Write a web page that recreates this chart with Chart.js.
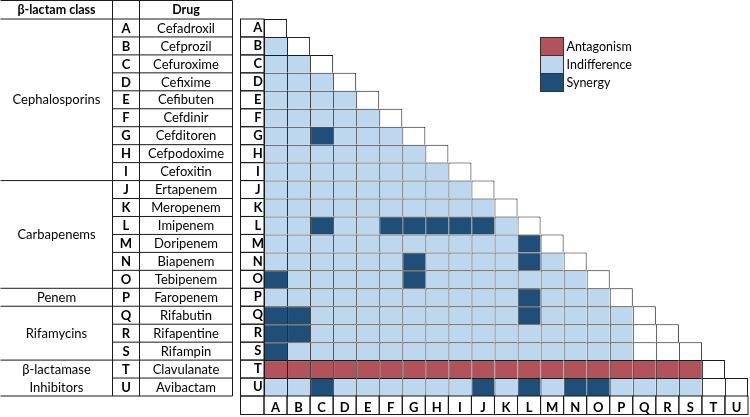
<!DOCTYPE html>
<html>
<head>
<meta charset="utf-8">
<script src="https://cdn.jsdelivr.net/npm/chart.js@4.4.1/dist/chart.umd.min.js"></script>
<style>
html,body{margin:0;padding:0;background:#fff;}
#wrap{position:relative;width:750px;height:417px;}
</style>
</head>
<body>
<div id="wrap"><canvas id="c" width="750" height="417"></canvas></div>
<script>
// ---- data ----
const letters = ['A','B','C','D','E','F','G','H','I','J','K','L','M','N','O','P','Q','R','S','T','U'];
const drugs = ['Cefadroxil','Cefprozil','Cefuroxime','Cefixime','Cefibuten','Cefdinir','Cefditoren','Cefpodoxime','Cefoxitin',
  'Ertapenem','Meropenem','Imipenem','Doripenem','Biapenem','Tebipenem','Faropenem','Rifabutin','Rifapentine','Rifampin',
  'Clavulanate','Avibactam'];
const classNames = ['Cephalosporins','Carbapenems','Penem','Rifamycins','β-lactamase\nInhibitors'];
const classFirstRow = [0, 9, 15, 16, 19];
const classLastRow = [8, 14, 15, 18, 20];
// Interaction of row drug with column drugs A.. (lower triangle, before diagonal)
// I = Indifference, S = Synergy, A = Antagonism, - = not tested (white)
const interactions = [
  '',
  'I',
  'II',
  'III',
  'IIII',
  'IIIII',
  'IISIII',
  'IIIIIII',
  'IIIIIIII',
  'IIIIIIIII',
  'IIIIIIIIII',
  'IISIISSSSSI',
  'IIIIIIIIIIIS',
  'IIIIIISIIIISI',
  'SIIIIISIIIIIII',
  'IIIIIIIIIIISIII',
  'SSIIIIIIIIISIIII',
  'SSIIIIIIIIIIIIII-',
  'SIIIIIIIIIIIIIII--',
  'AAAAAAAAAAAAAAAAAAA',
  'IISIIIIIISISISSIIII-'
];
const legendLabels = ['Antagonism','Indifference','Synergy'];
const legendCodes = ['A','I','S'];
const tableHeaders = ['β-lactam class','','Drug'];

// ---- styles ----
const colorFor = {A:'#B2525A', I:'#BDD7EE', S:'#1F4E79', '-':'#FFFFFF', D:'#FFFFFF'};
const FONT = 'Lato, "Open Sans", sans-serif';
const LINE = '#1a1a1a';

function cellCode(i, j){
  if (j > i) return null;
  if (j === i) return 'D';
  return interactions[i][j];
}

const datasets = letters.map((col, j) => {
  const data = letters.map((row, i) => cellCode(i, j) === null ? null : [j, j + 1]);
  const codes = letters.map((row, i) => cellCode(i, j));
  return {
    label: col,
    data: data,
    backgroundColor: codes.map(c => c ? colorFor[c] : 'transparent'),
    borderColor: LINE,
    borderWidth: letters.map((row, i) => ({top: 1, left: 1, bottom: 0, right: (i === j ? 1 : 0)})),
    borderSkipped: false,
    inflateAmount: 0,
    grouped: false,
    barPercentage: 1,
    categoryPercentage: 1
  };
});

const tablePlugin = {
  id: 'tableAndFrames',
  afterDraw(chart) {
    const ctx = chart.ctx;
    const ca = chart.chartArea;
    const y = chart.scales.y;
    const x = chart.scales.x;
    const rowH = (ca.bottom - ca.top) / letters.length;
    const rowTop = i => y.getPixelForValue(i) - rowH / 2;
    ctx.save();
    ctx.strokeStyle = LINE;
    ctx.lineWidth = 1;
    // ----- grid label cells (left column) -----
    const lx0 = 240.5, lx1 = ca.left;
    letters.forEach((l, i) => {
      ctx.strokeRect(lx0, rowTop(i), lx1 - lx0, rowH);
    });
    // bottom label row
    const by0 = ca.bottom, by1 = 414.5;
    ctx.strokeRect(lx0, by0, lx1 - lx0, by1 - by0);
    letters.forEach((l, j) => {
      const a = x.getPixelForValue(j), b = x.getPixelForValue(j + 1);
      ctx.strokeRect(a, by0, b - a, by1 - by0);
    });

    // ----- left table -----
    const c0 = 0.5, c1 = 112.5, c2 = 139.5, c3 = 232.5;
    const top = 0.5, headB = rowTop(0);
    const tableBottom = rowTop(letters.length - 1) + rowH;
    ctx.beginPath();
    ctx.moveTo(c0, top); ctx.lineTo(c3, top);
    ctx.moveTo(c0, headB); ctx.lineTo(c3, headB);
    ctx.moveTo(c0, tableBottom); ctx.lineTo(c3, tableBottom);
    ctx.moveTo(c3, top); ctx.lineTo(c3, tableBottom);
    ctx.moveTo(c1, top); ctx.lineTo(c1, tableBottom);
    ctx.moveTo(c2, top); ctx.lineTo(c2, tableBottom);
    for (let i = 1; i < letters.length; i++) {
      const yy = rowTop(i);
      ctx.moveTo(c1, yy); ctx.lineTo(c3, yy);
    }
    classFirstRow.forEach(r => {
      if (r > 0) { const yy = rowTop(r); ctx.moveTo(c0, yy); ctx.lineTo(c1, yy); }
    });
    ctx.stroke();

    ctx.fillStyle = '#000';
    ctx.textBaseline = 'middle';
    ctx.textAlign = 'center';
    ctx.font = 'bold 12.5px ' + FONT;
    ctx.fillText(tableHeaders[0], (c0 + c1) / 2, (top + headB) / 2 + 0.5);
    ctx.fillText(tableHeaders[2], (c2 + c3) / 2, (top + headB) / 2 + 0.5);
    letters.forEach((l, i) => {
      const cy = y.getPixelForValue(i) + 0.5;
      ctx.font = 'bold 13px ' + FONT;
      ctx.fillText(l, (c1 + c2) / 2, cy);
      ctx.font = '13px ' + FONT;
      ctx.fillText(drugs[i], (c2 + c3) / 2, cy);
    });
    ctx.font = '13px ' + FONT;
    classNames.forEach((name, k) => {
      const t = rowTop(classFirstRow[k]);
      const b = rowTop(classLastRow[k]) + rowH;
      const lines = name.split('\n');
      const mid = (t + b) / 2;
      lines.forEach((ln, m) => {
        ctx.fillText(ln, (c0 + c1) / 2, mid + (m - (lines.length - 1) / 2) * rowH + 0.5);
      });
    });

    // ----- legend -----
    const gx = 540.5, gy = 37.5, gw = 23, gh = 18;
    legendLabels.forEach((lab, k) => {
      ctx.fillStyle = colorFor[legendCodes[k]];
      ctx.fillRect(gx, gy + k * gh, gw, gh);
      ctx.strokeStyle = '#333';
      ctx.strokeRect(gx, gy + k * gh, gw, gh);
      ctx.fillStyle = '#000';
      ctx.textAlign = 'left';
      ctx.font = '12.5px ' + FONT;
      ctx.fillText(lab, gx + gw + 3, gy + k * gh + gh / 2 + 0.5);
    });
    ctx.restore();
  }
};

new Chart(document.getElementById('c'), {
  type: 'bar',
  data: { labels: letters, datasets: datasets },
  options: {
    indexAxis: 'y',
    responsive: false,
    animation: false,
    events: [],
    layout: { padding: { left: 240, top: 19, right: 2, bottom: 2 } },
    plugins: { legend: { display: false }, tooltip: { enabled: false } },
    scales: {
      y: {
        type: 'category',
        position: 'left',
        offset: true,
        grid: { display: false, drawTicks: false },
        border: { display: false },
        afterFit: s => { s.width = 24; },
        ticks: { color: '#000', font: { family: FONT, size: 13, weight: 'bold' }, crossAlign: 'center', padding: 0, autoSkip: false }
      },
      x: {
        type: 'linear',
        position: 'bottom',
        min: 0,
        max: letters.length,
        grid: { display: false, drawTicks: false },
        border: { display: false },
        afterFit: s => { s.height = 19; },
        afterBuildTicks: s => { s.ticks = letters.map((l, j) => ({ value: j + 0.5 })); },
        ticks: {
          color: '#000',
          font: { family: FONT, size: 13, weight: 'bold' },
          padding: 4,
          maxRotation: 0,
          autoSkip: false,
          callback: (v, idx) => letters[idx]
        }
      }
    }
  },
  plugins: [tablePlugin]
});
</script>
</body>
</html>
